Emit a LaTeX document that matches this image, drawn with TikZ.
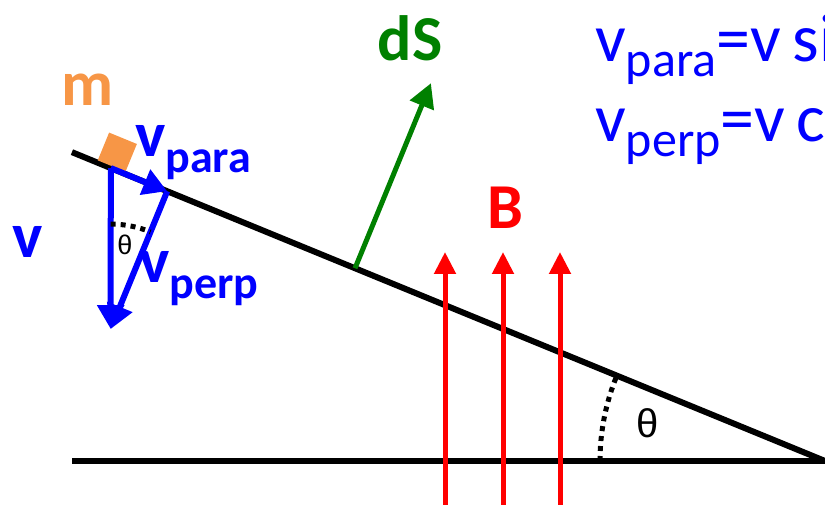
\documentclass[tikz,border=0pt]{standalone}
\usepackage{fontspec}
\setmainfont{Carlito}
\newfontfamily\thetafont{Liberation Sans}
\usetikzlibrary{arrows.meta, calc}

\definecolor{massorange}{RGB}{247,150,70}
\definecolor{dsgreen}{RGB}{0,128,0}

\newcommand{\lowsub}[1]{\raisebox{-0.24em}{\fontsize{46}{46}\selectfont #1}}
\newcommand{\lowsubrm}[1]{\raisebox{-0.22em}{\fontsize{50}{50}\selectfont #1}}

\begin{document}
\begin{tikzpicture}[
    x=1pt, y=1pt,
    >=Stealth,
    surface/.style={line width=6pt},
    vec/.style={blue, line width=6pt, -{Triangle[length=24pt, width=26pt]}},
    normal/.style={dsgreen, line width=5pt, -{Triangle[length=24pt, width=25pt]}},
    field/.style={red, line width=5pt, -{Triangle[length=22pt, width=21pt]}},
    dotarc/.style={line width=5pt, dash pattern=on 5pt off 5pt},
    lbl/.style={font=\fontsize{64}{66}\selectfont\bfseries, inner sep=0pt},
    block/.style={fill=massorange, minimum size=30pt, inner sep=0pt, rotate=-22.3, anchor=south}
  ]
    \useasboundingbox (0,0) rectangle (825,505);
    \clip (0,0) rectangle (825,505);

    % incline and floor
    \coordinate (C) at (825,44);
    \coordinate (A) at ($(C)+(157.7:814)$);
    \coordinate (L) at (72,44);
    \draw[surface] (L) -- (C);
    \draw[surface] (A) -- (C);

    % angle of the incline
    \draw[dotarc] ($(C)+(180:225)$) arc[start angle=180, end angle=157.7, radius=225];
    \node[font=\thetafont\fontsize{40}{40}\selectfont, inner sep=0pt] (angle) at (648,82) {θ};

    % mass and its velocity
    \coordinate (O) at ($(C)+(157.7:772)$);
    \coordinate (P) at ($(C)+(157.7:711)$);
    \coordinate (V) at ($(P)+(-112.3:149)$);
    \node[block] (mass) at ($(O)+(67.7:2)$) {};
    \draw[vec] (O) -- (V);
    \draw[vec] (O) -- (P);
    \draw[vec] (P) -- (V);
    \draw[dotarc] ($(V)+(90:105)$) arc[start angle=90, end angle=67.7, radius=105];
    \node[font=\thetafont\fontsize{27}{27}\selectfont, inner sep=0pt] (smallangle) at (125,260) {θ};

    \node[lbl, massorange] (mlabel) at (88,415) {m};
    \node[lbl, blue] (vlabel) at (28,263) {v};
    \node[lbl, blue, anchor=base west] (paralabel) at (135,348) {v\lowsub{para}};
    \node[lbl, blue, anchor=base west] (perplabel) at (139,222) {v\lowsub{perp}};

    % surface element
    \coordinate (S) at ($(C)+(157.7:508)$);
    \coordinate (Stip) at ($(S)+(67.7:200)$);
    \draw[normal] (S) -- (Stip);
    \node[lbl, dsgreen] (dslabel) at (410,467) {dS};

    % magnetic field
    \foreach \bx [count=\i] in {445,503,560} {
      \coordinate (b\i) at (\bx,-5);
      \coordinate (t\i) at (\bx,253);
      \draw[field] (b\i) -- (t\i);
    }
    \node[lbl, red] (blabel) at (505,297) {B};

    % components
    \node[font=\fontsize{68}{70}\selectfont, blue, inner sep=0pt, anchor=base west] (eqpara) at (595,443) {v\lowsubrm{para}=v\hspace{-4pt} sin θ};
    \node[font=\fontsize{68}{70}\selectfont, blue, inner sep=0pt, anchor=base west] (eqperp) at (595,363) {v\lowsubrm{perp}=v\hspace{-4pt} cos θ};
  \end{tikzpicture}
\end{document}
